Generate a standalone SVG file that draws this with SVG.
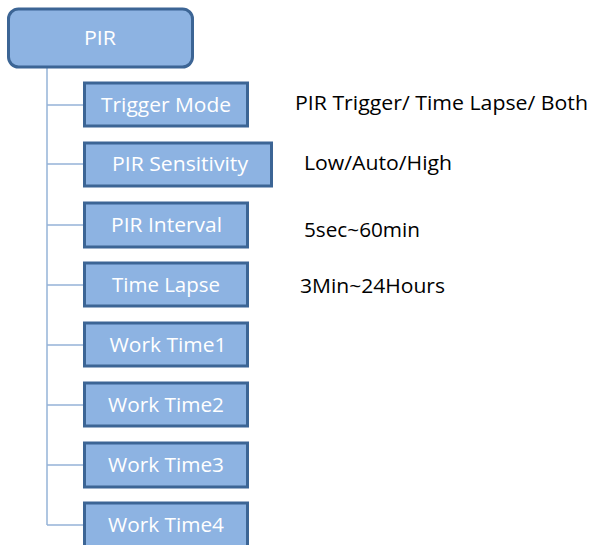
<svg xmlns="http://www.w3.org/2000/svg" width="592" height="545" viewBox="0 0 592 545">
<style>
.box{fill:#8db3e2;stroke:#3c6595;stroke-width:3}
.lbl{font-family:"Open Sans","Liberation Sans",sans-serif;font-size:20px;fill:#ffffff;text-anchor:middle}
.val{font-family:"Open Sans","Liberation Sans",sans-serif;font-size:20px;fill:#000000}
.con{stroke:#95b3d7;stroke-width:1.5;fill:none}
</style>
<rect width="592" height="545" fill="#ffffff"/>
<g id="connectors">
<path class="con" d="M47,68 V525"/>
<path class="con" d="M47,105 H84 M47,164 H84 M47,225 H84 M47,285 H84 M47,345 H84 M47,405 H84 M47,465 H84 M47,525 H84"/>
</g>
<g id="pir"><rect class="box" x="8.5" y="9" width="184" height="58" rx="10"/><text class="lbl" x="100" y="45" textLength="32" lengthAdjust="spacingAndGlyphs">PIR</text></g>
<g id="trigger-mode"><rect class="box" x="84.5" y="83" width="163" height="43"/><text class="lbl" x="166" y="112" textLength="130" lengthAdjust="spacingAndGlyphs">Trigger Mode</text></g>
<g id="pir-sensitivity"><rect class="box" x="84.5" y="143" width="187" height="43"/><text class="lbl" x="180" y="171" textLength="136" lengthAdjust="spacingAndGlyphs">PIR Sensitivity</text></g>
<g id="pir-interval"><rect class="box" x="84.5" y="203" width="163" height="44"/><text class="lbl" x="166.5" y="232" textLength="111" lengthAdjust="spacingAndGlyphs">PIR Interval</text></g>
<g id="time-lapse"><rect class="box" x="84.5" y="263" width="163" height="43"/><text class="lbl" x="166" y="292" textLength="108" lengthAdjust="spacingAndGlyphs">Time Lapse</text></g>
<g id="work-time1"><rect class="box" x="84.5" y="323" width="163" height="43"/><text class="lbl" x="168" y="352" textLength="117" lengthAdjust="spacingAndGlyphs">Work Time1</text></g>
<g id="work-time2"><rect class="box" x="84.5" y="383" width="163" height="43"/><text class="lbl" x="166" y="412" textLength="116" lengthAdjust="spacingAndGlyphs">Work Time2</text></g>
<g id="work-time3"><rect class="box" x="84.5" y="443" width="163" height="44"/><text class="lbl" x="166" y="472" textLength="116" lengthAdjust="spacingAndGlyphs">Work Time3</text></g>
<g id="work-time4"><rect class="box" x="84.5" y="503" width="163" height="44"/><text class="lbl" x="166" y="532" textLength="116" lengthAdjust="spacingAndGlyphs">Work Time4</text></g>
<g id="values">
<text class="val" x="295" y="110" textLength="293" lengthAdjust="spacingAndGlyphs">PIR Trigger/ Time Lapse/ Both</text>
<text class="val" x="304" y="170" textLength="148" lengthAdjust="spacingAndGlyphs">Low/Auto/High</text>
<text class="val" x="304" y="237" textLength="116" lengthAdjust="spacingAndGlyphs">5sec~60min</text>
<text class="val" x="300" y="293" textLength="145" lengthAdjust="spacingAndGlyphs">3Min~24Hours</text>
</g>
</svg>
